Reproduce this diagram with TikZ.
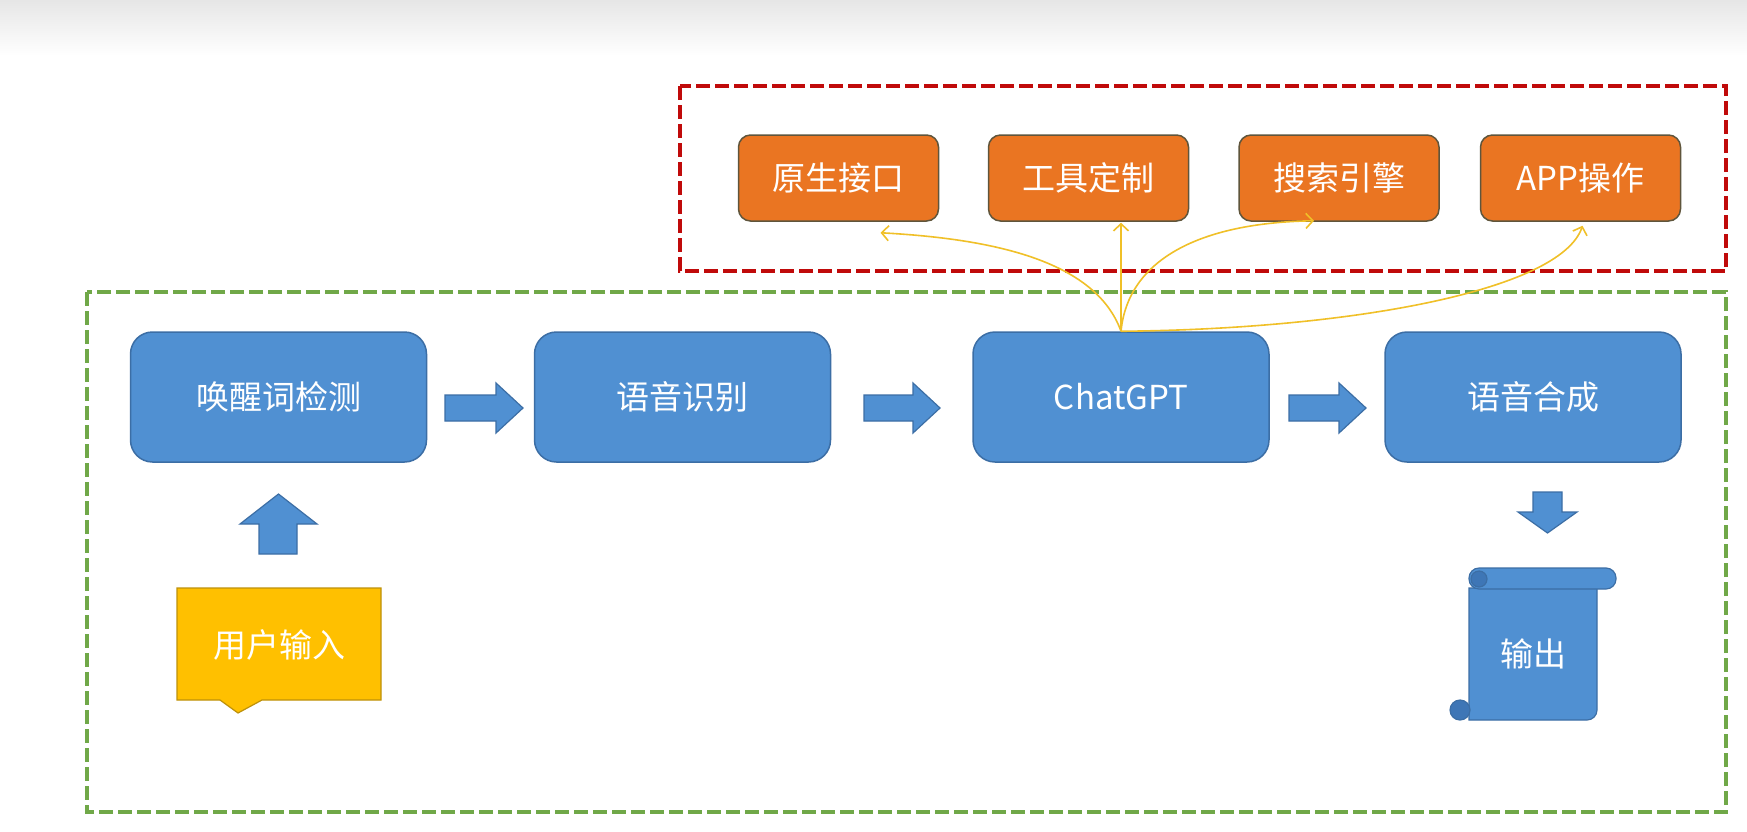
\documentclass[tikz,border=0pt]{standalone}
\usepackage{fontspec}
\newfontfamily\cjk{Noto Sans CJK SC}
\usetikzlibrary{arrows.meta,calc}
\definecolor{boxblue}{RGB}{80,144,210}
\definecolor{boxblueline}{RGB}{60,110,165}
\definecolor{curlblue}{RGB}{62,118,182}
\definecolor{boxorange}{RGB}{234,117,34}
\definecolor{orangeline}{RGB}{95,85,60}
\definecolor{useryellow}{RGB}{255,192,0}
\definecolor{userline}{RGB}{190,145,10}
\definecolor{redframe}{RGB}{192,10,10}
\definecolor{greenframe}{RGB}{112,168,72}
\definecolor{linkyellow}{RGB}{240,192,40}
\definecolor{bandgray}{RGB}{230,230,230}
\newcommand\rblk[3]{%
  \filldraw[blockarrow] (#1,#3-13) -- (#2-27,#3-13) -- (#2-27,#3-25) -- (#2,#3)
    -- (#2-27,#3+25) -- (#2-27,#3+13) -- (#1,#3+13) -- cycle;}
\begin{document}
\begin{tikzpicture}[x=1pt,y=-1pt,
  lbl/.style={font=\cjk\fontsize{33}{40}\selectfont, text=white},
  bluebox/.style={lbl, draw=boxblueline, line width=1.5pt, fill=boxblue,
    rounded corners=22pt, minimum width=296pt, minimum height=130pt, inner sep=0pt},
  orangebox/.style={lbl, draw=orangeline, line width=1.5pt, fill=boxorange,
    rounded corners=12pt, minimum width=200pt, minimum height=86pt, inner sep=0pt},
  blockarrow/.style={fill=boxblue, draw=boxblueline, line width=1.2pt},
  link/.style={draw=linkyellow, line width=1.6pt, -{Straight Barb[length=7pt,width=15pt]}},
  dashframe/.style={dash pattern=on 14pt off 5pt, line width=3.5pt}
]
\useasboundingbox (0,0) rectangle (1747,831);
\fill[white] (0,0) rectangle (1747,831);
\shade[top color=bandgray, bottom color=white] (0,0) rectangle (1747,56);

% frames
\draw[dashframe, draw=redframe] (680,86) rectangle (1726,271);
\draw[dashframe, draw=greenframe] (87,292) rectangle (1726,812);

% orange tool boxes
\node[orangebox] (n1) at (838.5,178) {原生接口};
\node[orangebox] (n2) at (1088.5,178) {工具定制};
\node[orangebox] (n3) at (1339,178) {搜索引擎};
\node[orangebox] (n4) at (1580.5,178) {APP操作};

% blue pipeline boxes
\node[bluebox] (wake) at (278.5,397) {唤醒词检测};
\node[bluebox] (asr) at (682.5,397) {语音识别};
\node[bluebox] (chat) at (1121,397) {ChatGPT};
\node[bluebox] (tts) at (1533,397) {语音合成};

% block arrows between boxes
\rblk{445}{523}{408}
\rblk{864}{940}{408}
\rblk{1289}{1366}{408}

% up arrow
\filldraw[blockarrow] (259,554) -- (297,554) -- (297,524) -- (317,524) -- (278.5,494)
  -- (240,524) -- (259,524) -- cycle;
% down arrow
\filldraw[blockarrow] (1533,492) -- (1562,492) -- (1562,512) -- (1577,512) -- (1547.5,533)
  -- (1518,512) -- (1533,512) -- cycle;

% user input callout
\filldraw[fill=useryellow, draw=userline, line width=1.2pt]
  (177,588) -- (381,588) -- (381,700) -- (262,700) -- (238,713) -- (220,700)
  -- (177,700) -- cycle;
\node[lbl] (user) at (279,645) {用户输入};

% output scroll
\filldraw[fill=boxblue, draw=boxblueline, line width=1.2pt]
  (1469,588) -- (1469,720) -- (1587,720) arc[start angle=90, end angle=0, radius=10]
  -- (1597,588) -- cycle;
\filldraw[fill=curlblue, draw=boxblueline, line width=1.2pt] (1460,710) circle[radius=10];
\filldraw[fill=boxblue, draw=boxblueline, line width=1.2pt, rounded corners=10pt]
  (1469,568) rectangle (1616,589);
\filldraw[fill=curlblue, draw=boxblueline, line width=1.2pt] (1479,579) circle[radius=8];
\node[lbl] (out) at (1533,654) {输出};

% ChatGPT tool links
\draw[link] (chat.north) .. controls ($(chat.north)+(-26,-72)$) and ($(n1.south)+(151,17)$)
  .. ($(n1.south)+(42,11)$);
\draw[link] (chat.north) -- ($(chat.north |- n2.south)+(0,1)$);
\draw[link] (chat.north) .. controls ($(chat.north)+(7,-72)$) and ($(n3.south)+(-139,1)$)
  .. ($(n3.south)+(-25,-1)$);
\draw[link] (chat.north) .. controls ($(chat.north)+(229,-2)$) and ($(n4.south)+(-20,69)$)
  .. ($(n4.south)+(2,4)$);
\end{tikzpicture}
\end{document}
